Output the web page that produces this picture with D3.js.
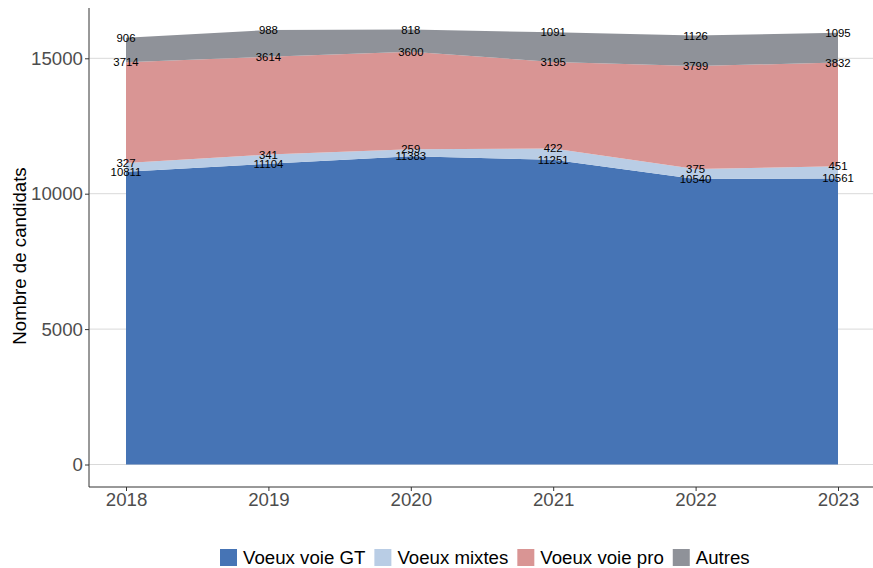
<!DOCTYPE html>
<html>
<head>
<meta charset="utf-8">
<script src="https://cdn.jsdelivr.net/npm/d3@7"></script>
<style>
  body { margin: 0; background: #fff; }
  svg { font-family: "Liberation Sans", Arial, sans-serif; }
</style>
</head>
<body>
<svg id="chart"></svg>
<script>
// data
var years = [2018, 2019, 2020, 2021, 2022, 2023];
var voeuxGT = [10811, 11104, 11383, 11251, 10540, 10561];
var voeuxMixtes = [327, 341, 259, 422, 375, 451];
var voeuxPro = [3714, 3614, 3600, 3195, 3799, 3832];
var autres = [906, 988, 818, 1091, 1126, 1095];
var seriesNames = ["Voeux voie GT", "Voeux mixtes", "Voeux voie pro", "Autres"];
var seriesColors = ["#4674b5", "#b9cde5", "#d99594", "#8f9299"];
var yTicks = [0, 5000, 10000, 15000];

var svgWidth = 873, svgHeight = 568;
var margin = {top: 8, right: 0, bottom: 81, left: 89};
var fontBig = 18.67;

var svg = d3.select('#chart')
  .attr('width', svgWidth)
  .attr('height', svgHeight);

var keys = ["gt", "mixtes", "pro", "autres"];
var table = years.map(function(y, i) {
  return {year: y, gt: voeuxGT[i], mixtes: voeuxMixtes[i], pro: voeuxPro[i], autres: autres[i]};
});
var stack = d3.stack().keys(keys)(table);

var x = d3.scaleLinear()
  .domain([2018, 2023])
  .range([126, 838]);

var y = d3.scaleLinear()
  .domain([0, 15000])
  .range([464.5, 58.3]);

// grid
svg.append('g')
  .selectAll('line')
  .data(yTicks)
  .enter()
  .append('line')
  .attr('x1', margin.left)
  .attr('x2', svgWidth)
  .attr('y1', function(d) { return y(d); })
  .attr('y2', function(d) { return y(d); })
  .attr('stroke', '#d9d9d9')
  .attr('stroke-width', 1);

// areas
var area = d3.area()
  .x(function(d) { return x(d.data.year); })
  .y0(function(d) { return y(d[0]); })
  .y1(function(d) { return y(d[1]); });

svg.append('g')
  .selectAll('path')
  .data(stack)
  .enter()
  .append('path')
  .attr('d', area)
  .attr('fill', function(d, i) { return seriesColors[i]; });

// value labels at top of each layer
var lab = svg.append('g')
  .attr('font-size', 11.4)
  .attr('fill', '#000')
  .attr('text-anchor', 'middle');

stack.forEach(function(layer) {
  lab.selectAll(null)
    .data(layer)
    .enter()
    .append('text')
    .attr('x', function(d) { return x(d.data.year); })
    .attr('y', function(d) { return y(d[1]); })
    .attr('dy', '0.35em')
    .text(function(d) { return d[1] - d[0]; });
});

// axes
var yAxis = d3.axisLeft(y).tickValues(yTicks).tickSize(4).tickPadding(2).tickFormat(d3.format('d'));
var gy = svg.append('g')
  .attr('transform', 'translate(' + margin.left + ',0)')
  .call(yAxis);
gy.select('.domain').attr('stroke', '#333').attr('d', 'M0,' + margin.top + 'V' + (svgHeight - margin.bottom));
gy.selectAll('.tick line').attr('stroke', '#333');
gy.selectAll('.tick text').attr('fill', '#4d4d4d').attr('font-size', fontBig).attr('font-family', '"Liberation Sans", Arial, sans-serif');

var xAxis = d3.axisBottom(x).tickValues(years).tickSize(4).tickPadding(2).tickFormat(d3.format('d'));
var gx = svg.append('g')
  .attr('transform', 'translate(0,' + (svgHeight - margin.bottom) + ')')
  .call(xAxis);
gx.select('.domain').attr('stroke', '#333').attr('d', 'M' + margin.left + ',0H' + svgWidth);
gx.selectAll('.tick line').attr('stroke', '#333');
gx.selectAll('.tick text').attr('fill', '#4d4d4d').attr('font-size', fontBig).attr('font-family', '"Liberation Sans", Arial, sans-serif');

// y title
svg.append('text')
  .attr('transform', 'translate(26,256) rotate(-90)')
  .attr('text-anchor', 'middle')
  .attr('font-size', fontBig)
  .attr('fill', '#000')
  .text('Nombre de candidats');

// legend, laid out left to right from measured text widths
var legend = svg.append('g').attr('transform', 'translate(0,549)');
var lx = 220;
seriesNames.forEach(function(name, i) {
  legend.append('rect')
    .attr('x', lx)
    .attr('width', 17)
    .attr('height', 17)
    .attr('fill', seriesColors[i]);
  var t = legend.append('text')
    .attr('x', lx + 23)
    .attr('y', 8.5)
    .attr('dy', '0.35em')
    .attr('font-size', fontBig)
    .attr('fill', '#000')
    .text(name);
  lx = lx + 23 + t.node().getComputedTextLength() + 9;
});
</script>
</body>
</html>
